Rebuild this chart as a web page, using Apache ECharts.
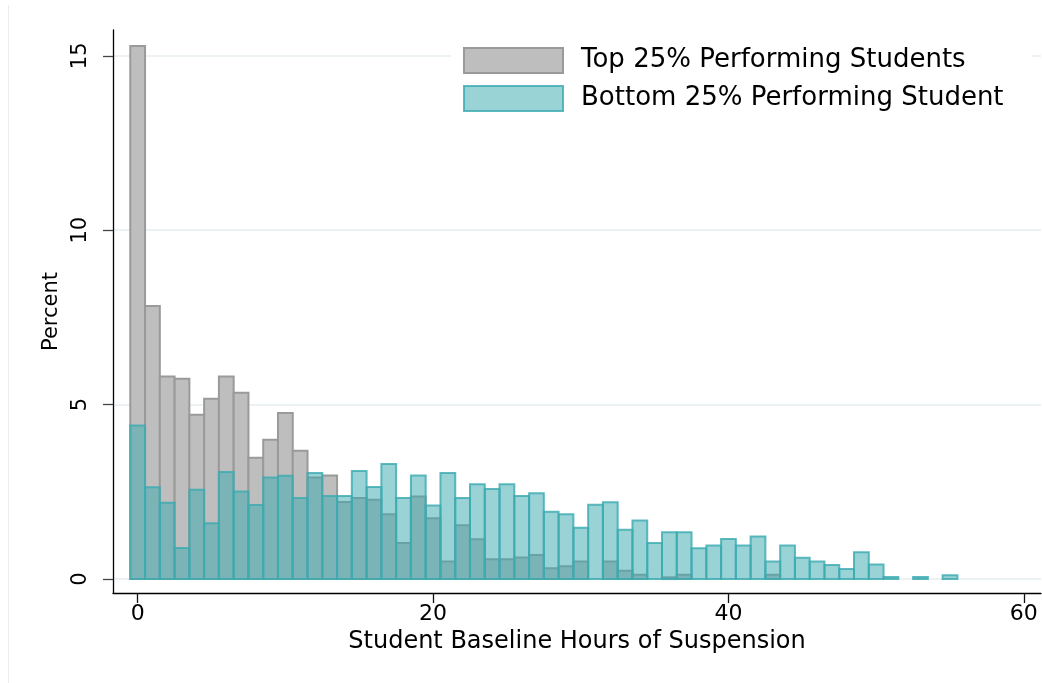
<!DOCTYPE html>
<html>
<head>
<meta charset="utf-8">
<title>Baseline hours of suspension</title>
<script src="https://cdn.jsdelivr.net/npm/echarts@6/dist/echarts.min.js"></script>
<style>
  html, body { margin: 0; padding: 0; background: #fff; }
  #chart { width: 1042px; height: 683px; }
</style>
</head>
<body>
<div id="chart"></div>
<script>
  // bins are 1 hour wide, centred on the hour value
  const hours = [];
  for (let h = 0; h <= 55; h++) hours.push(h);

  // percent of students in each bin
  const topPct = [
    15.28, 7.83, 5.81, 5.74, 4.71, 5.17, 5.81, 5.34, 3.48, 3.99,
    4.76, 3.68, 2.91, 2.97, 2.21, 2.32, 2.27, 1.86, 1.03, 2.37,
    1.74, 0.50, 1.54, 1.14, 0.57, 0.57, 0.62, 0.69, 0.31, 0.37,
    0.50, 0, 0.50, 0.24, 0.12, 0, 0.05, 0.12, 0, 0,
    0, 0, 0, 0.12, 0, 0, 0, 0, 0, 0,
    0, 0, 0, 0, 0, 0
  ];
  const bottomPct = [
    4.40, 2.63, 2.19, 0.89, 2.56, 1.60, 3.07, 2.51, 2.12, 2.91,
    2.96, 2.32, 3.04, 2.38, 2.38, 3.10, 2.64, 3.30, 2.32, 2.97,
    2.11, 3.04, 2.32, 2.72, 2.58, 2.72, 2.38, 2.46, 1.93, 1.86,
    1.47, 2.13, 2.20, 1.41, 1.68, 1.03, 1.34, 1.34, 0.88, 0.96,
    1.15, 0.96, 1.22, 0.50, 0.96, 0.61, 0.50, 0.40, 0.29, 0.77,
    0.42, 0.06, 0, 0.06, 0, 0.11
  ];

  const xTicks = [0, 20, 40, 60];
  const yTicks = [0, 5, 10, 15];
  const seriesNames = ['Top 25% Performing Students', 'Bottom 25% Performing Student'];

  const FONT = 'DejaVu Sans';
  const grayFill = '#bebebe', grayLine = '#9a9a9a';
  const tealFill = 'rgba(60,171,177,0.52)', tealLine = 'rgba(60,171,177,0.82)';

  function binData(vals) {
    const out = [];
    for (let i = 0; i < hours.length; i++) {
      if (vals[i] > 0) out.push([hours[i], vals[i]]);
    }
    return out;
  }

  function histBar(fill, stroke) {
    return function (params, api) {
      const x = api.value(0), y = api.value(1);
      const p0 = api.coord([x - 0.5, 0]);
      const p1 = api.coord([x + 0.5, y]);
      return {
        type: 'rect',
        shape: { x: p0[0], y: p1[1], width: p1[0] - p0[0], height: p0[1] - p1[1] },
        style: { fill: fill, stroke: stroke, lineWidth: 2 }
      };
    };
  }

  const chart = echarts.init(document.getElementById('chart'));
  chart.setOption({
    backgroundColor: '#fff',
    animation: false,
    textStyle: { fontFamily: FONT },
    graphic: [{
      type: 'line',
      shape: { x1: 8.5, y1: 5, x2: 8.5, y2: 683 },
      style: { stroke: '#e9eef1', lineWidth: 1 }
    }],
    grid: { left: 113, right: 1, top: 30, bottom: 90, containLabel: false },
    legend: {
      orient: 'vertical',
      left: 451,
      top: 37,
      padding: [10, 28, 10, 12],
      backgroundColor: '#fff',
      itemWidth: 99,
      itemHeight: 25,
      itemGap: 11,
      icon: 'rect',
      textStyle: { fontFamily: FONT, fontSize: 26, color: '#000', lineHeight: 26, padding: [0, 0, 0, 13] },
      data: [
        { name: seriesNames[0], itemStyle: { color: grayFill, borderColor: grayLine, borderWidth: 2 } },
        { name: seriesNames[1], itemStyle: { color: tealFill, borderColor: tealLine, borderWidth: 2 } }
      ]
    },
    xAxis: {
      type: 'value',
      min: -1.67,
      max: 61.16,
      name: 'Student Baseline Hours of Suspension',
      nameLocation: 'middle',
      nameGap: 36,
      nameTextStyle: { fontFamily: FONT, fontSize: 24, color: '#000' },
      axisLine: { onZero: false, lineStyle: { color: '#000', width: 1.3 } },
      axisTick: { customValues: xTicks, length: 10, lineStyle: { color: '#111', width: 1.3 } },
      axisLabel: { customValues: xTicks, margin: 10, fontFamily: FONT, fontSize: 22, color: '#000' },
      splitLine: { show: false }
    },
    yAxis: {
      type: 'value',
      min: -0.4,
      max: 15.74,
      name: 'Percent',
      nameLocation: 'middle',
      nameGap: 48,
      nameTextStyle: { fontFamily: FONT, fontSize: 21, color: '#000' },
      axisLine: { show: true, onZero: false, lineStyle: { color: '#000', width: 1.3 } },
      axisTick: { show: true, customValues: yTicks, length: 10, lineStyle: { color: '#444', width: 1.3 } },
      axisLabel: { customValues: yTicks, rotate: 90, margin: 22, fontFamily: FONT, fontSize: 21, color: '#000' },
      splitLine: { show: true, lineStyle: { color: '#e6edf0', width: 1.5 } }
    },
    series: [
      {
        name: seriesNames[0],
        type: 'custom',
        renderItem: histBar(grayFill, grayLine),
        itemStyle: { color: grayFill, borderColor: grayLine },
        encode: { x: 0, y: 1 },
        data: binData(topPct),
        z: 2
      },
      {
        name: seriesNames[1],
        type: 'custom',
        renderItem: histBar(tealFill, tealLine),
        itemStyle: { color: tealFill, borderColor: tealLine },
        encode: { x: 0, y: 1 },
        data: binData(bottomPct),
        z: 3
      }
    ]
  });
</script>
</body>
</html>
